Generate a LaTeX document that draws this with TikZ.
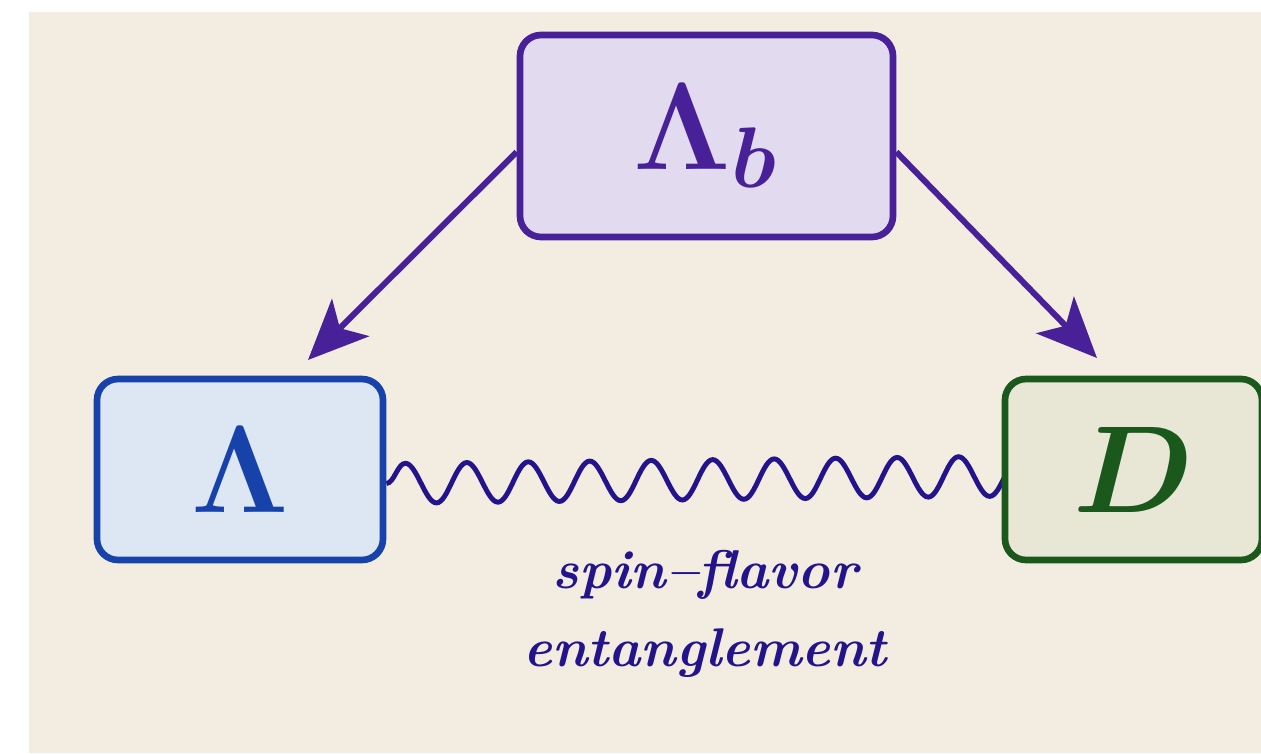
\documentclass[tikz,border=0pt]{standalone}
\usepackage{amsmath}
\usepackage{xcolor}
\usepackage{graphicx}
\usepackage{tikz}
\usetikzlibrary{arrows.meta, positioning, decorations.pathmorphing, backgrounds}
\definecolor{papercol}{RGB}{243,236,224}
\definecolor{lbcol}{RGB}{72,32,152}
\definecolor{lbfill}{RGB}{226,219,239}
\definecolor{lamcol}{RGB}{22,66,170}
\definecolor{lamfill}{RGB}{221,231,243}
\definecolor{dcol}{RGB}{26,88,28}
\definecolor{dfill}{RGB}{232,231,214}
\definecolor{inkcol}{RGB}{36,20,140}
\newcommand{\bigsym}[1]{\scalebox{3.4}{\huge\boldmath$#1$}}

\begin{document}
\begin{tikzpicture}[
  particle/.style={rounded corners=12pt, line width=3.8pt},
  decay/.style={-{Stealth[length=1.2cm, width=1.05cm, inset=0.3cm]}, line width=3.4pt, lbcol},
  wavy/.style={decorate, decoration={snake, amplitude=0.4cm, segment length=1.2295cm},
               line width=2.8pt, inkcol},
  note/.style={font=\fontsize{31}{44}\selectfont\bfseries\itshape, inkcol, align=center}
]
  \useasboundingbox (0,0) rectangle (25.22,15.06);

  \node[particle, draw=lbcol, fill=lbfill, text=lbcol,
        minimum width=7.46cm, minimum height=4.04cm] (lb) at (14.13,12.34) {\bigsym{\Lambda_b}};
  \node[particle, draw=lamcol, fill=lamfill, text=lamcol,
        minimum width=5.72cm, minimum height=3.62cm] (lam) at (4.80,5.67) {\bigsym{\Lambda}};
  \node[particle, draw=dcol, fill=dfill, text=dcol,
        minimum width=5.14cm, minimum height=3.62cm] (dd) at (22.67,5.67) {\bigsym{D}};

  \coordinate (ltip) at (6.16,7.86);
  \coordinate (rtip) at (21.94,7.90);
  \draw[decay] ([yshift=-0.32cm]lb.west) -- (ltip);
  \draw[decay] ([yshift=-0.32cm]lb.east) -- (rtip);

  % paper and wave go behind the boxes
  \begin{pgfonlayer}{background}
    \fill[papercol] (0.58,0) rectangle (25.22,14.82);
    \draw[wavy] ([yshift=-0.28cm]lam.east) -- ([xshift=1.23cm, yshift=-0.12cm]dd.west);
  \end{pgfonlayer}

  \node[note] (label) at (14.10,2.78) {spin--flavor\\entanglement};
\end{tikzpicture}
\end{document}
